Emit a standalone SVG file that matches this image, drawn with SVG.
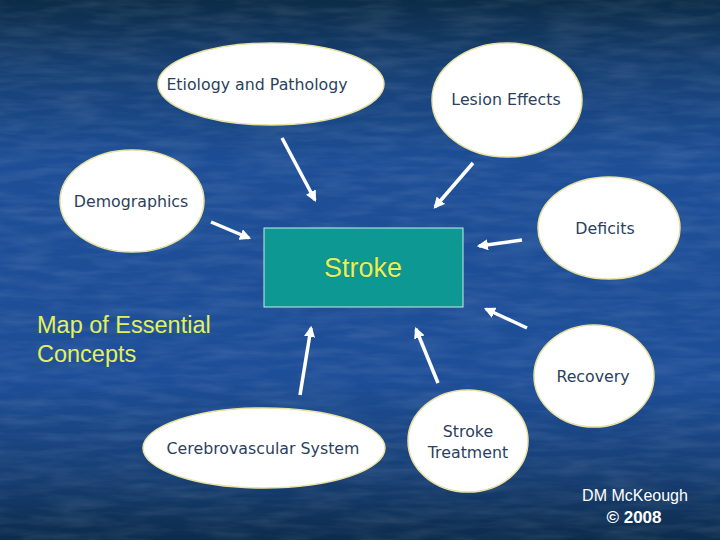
<svg xmlns="http://www.w3.org/2000/svg" width="720" height="540" viewBox="0 0 720 540">
<defs>
<linearGradient id="bg" x1="0" y1="0" x2="0" y2="1">
<stop offset="0" stop-color="#0c2c48"/>
<stop offset="0.12" stop-color="#163f72"/>
<stop offset="0.3" stop-color="#1d4e96"/>
<stop offset="0.7" stop-color="#1d4e98"/>
<stop offset="0.88" stop-color="#173f74"/>
<stop offset="1" stop-color="#0c2c4c"/>
</linearGradient>
<filter id="tex" x="0" y="0" width="100%" height="100%">
<feTurbulence type="fractalNoise" baseFrequency="0.02 0.12" numOctaves="3" seed="4"/>
<feColorMatrix type="matrix" values="0 0 0 0 1  0 0 0 0 1  0 0 0 0 1  0 0 0 0.35 -0.12"/>
</filter>
<marker id="ah" viewBox="0 0 10 10" refX="8" refY="5" markerWidth="3.2" markerHeight="3.2" orient="auto" markerUnits="strokeWidth">
<path d="M0,0 L10,5 L0,10 z" fill="#ffffff"/>
</marker>
<style>
.node ellipse{fill:#ffffff;stroke:#e9e2a2;stroke-width:1.5}
.lbl{font-family:"DejaVu Sans",Verdana,sans-serif;font-size:15.8px;fill:#2b3f5e;text-anchor:middle}
.conn line{stroke:#ffffff;stroke-width:3.5;stroke-linecap:butt;marker-end:url(#ah)}
.yl{font-family:"Liberation Sans",Arial,sans-serif;fill:#e2f25c}
.cr{font-family:"Liberation Sans",Arial,sans-serif;fill:#ffffff;text-anchor:middle}
</style>
</defs>
<rect width="720" height="540" fill="url(#bg)"/>
<rect width="720" height="540" filter="url(#tex)" opacity="0.5"/>

<g id="etiology" class="node"><ellipse cx="271" cy="84" rx="113" ry="41"/><text class="lbl" x="257" y="90">Etiology and Pathology</text></g>
<g id="lesion" class="node"><ellipse cx="507" cy="100" rx="75" ry="57"/><text class="lbl" x="506" y="105">Lesion Effects</text></g>
<g id="demographics" class="node"><ellipse cx="132" cy="201" rx="72" ry="51"/><text class="lbl" x="131" y="207">Demographics</text></g>
<g id="deficits" class="node"><ellipse cx="609" cy="228" rx="71" ry="51"/><text class="lbl" x="605" y="234">Deficits</text></g>
<g id="recovery" class="node"><ellipse cx="594" cy="376" rx="60" ry="51"/><text class="lbl" x="593" y="382">Recovery</text></g>
<g id="cerebrovascular" class="node"><ellipse cx="264" cy="448" rx="121" ry="40"/><text class="lbl" x="263" y="454">Cerebrovascular System</text></g>
<g id="treatment" class="node"><ellipse cx="468" cy="441" rx="60" ry="51"/><text class="lbl" x="468" y="437">Stroke</text><text class="lbl" x="468" y="458">Treatment</text></g>

<g id="stroke" class="node"><rect x="264" y="228" width="199" height="79" fill="#0e9893" stroke="#c9ece6" stroke-width="1"/><text class="yl" x="363" y="277" font-size="27" text-anchor="middle" style="paint-order:stroke" stroke="#3a5a40" stroke-width="0.6">Stroke</text></g>

<g id="connectors" class="conn">
<line x1="282" y1="138" x2="315" y2="200"/>
<line x1="473" y1="163" x2="435" y2="207"/>
<line x1="211" y1="222" x2="249" y2="238"/>
<line x1="522" y1="240" x2="479" y2="246"/>
<line x1="527" y1="328" x2="486" y2="309"/>
<line x1="300" y1="395" x2="311" y2="328"/>
<line x1="438" y1="383" x2="416" y2="329"/>
</g>

<g id="title"><text class="yl" x="37" y="333" font-size="23.5">Map of Essential</text><text class="yl" x="37" y="362" font-size="23.5">Concepts</text></g>
<g id="credit"><text class="cr" x="635" y="501" font-size="16">DM McKeough</text><text class="cr" x="634" y="523" font-size="17" font-weight="bold">© 2008</text></g>
</svg>
